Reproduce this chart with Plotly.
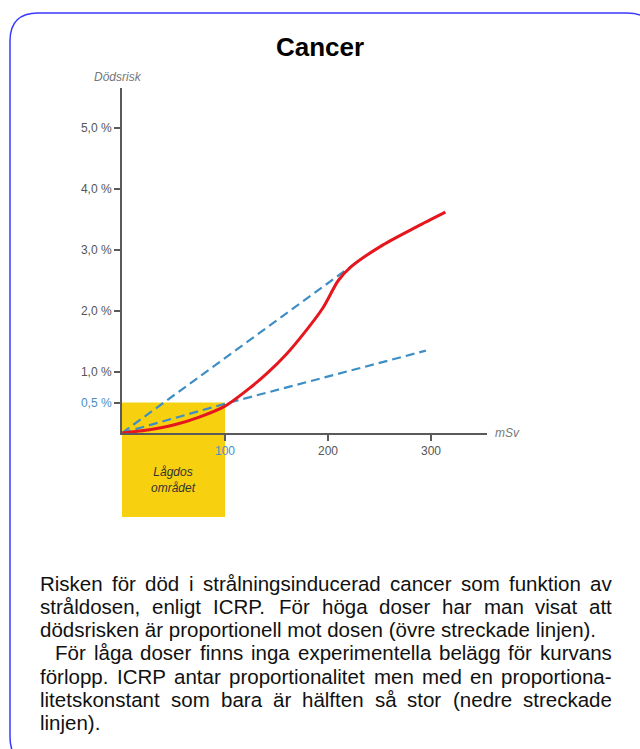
import plotly.graph_objects as go

W, H = 640, 749

# ---------------- data ----------------
dose_red = [0, 25, 50, 75, 100, 125, 141, 160, 175, 195, 210, 222, 253, 286, 314]
risk_red = [0, 0.05, 0.13, 0.26, 0.44, 0.75, 0.98, 1.3, 1.6, 2.05, 2.5, 2.72, 3.08, 3.38, 3.62]

dose_high = [0, 232]
risk_high = [0, 2.85]

dose_low = [0, 100, 295]
risk_low = [0, 0.48, 1.35]

y_tick_vals = [0.5, 1, 2, 3, 4, 5]
y_tick_text = ["0,5 %", "1,0 %", "2,0 %", "3,0 %", "4,0 %", "5,0 %"]
x_tick_vals = [100, 200, 300]
x_tick_text = ["100", "200", "300"]

low_dose_limit = 100
low_dose_risk = 0.5

title_text = "Cancer"
y_label = "Dödsrisk"
x_label = "mSv"
region_label = "Lågdos<br>området"

caption_lines = [
    "Risken för död i strålningsinducerad cancer som funktion av",
    "stråldosen, enligt ICRP. För höga doser har man visat att",
    "dödsrisken är proportionell mot dosen (övre streckade linjen).",
    "För låga doser finns inga experimentella belägg för kurvans",
    "förlopp. ICRP antar proportionalitet men med en proportiona-",
    "litetskonstant som bara är hälften så stor (nedre streckade",
    "linjen).",
]

# ---------------- style / layout ----------------
FONT = "Liberation Sans, Arial, Helvetica, sans-serif"
GREY = "#5a5a5a"
BLUE_LBL = "#4a8ec4"
RED = "#e5161d"
DASH = "#3d8ec4"
YELLOW = "#f7d10f"
BORDER = "#3a3aff"

# pixel geometry of the plot area
PX_L, PX_R = 122, 487
PX_B, PX_T = 433, 88
PX_PER_MSV = 1.03
PX_PER_PCT = 61.0

x_range = [0, (PX_R - PX_L) / PX_PER_MSV]
y_range = [0, (PX_B - PX_T) / PX_PER_PCT]
x_dom = [PX_L / W, PX_R / W]
y_dom = [1 - PX_B / H, 1 - PX_T / H]


def px(x):
    return x / W


def py(y):
    return 1 - y / H


def ypaper(v):
    return y_dom[0] + (v - y_range[0]) / (y_range[1] - y_range[0]) * (y_dom[1] - y_dom[0])


fig = go.Figure()

fig.add_trace(go.Scatter(x=dose_high, y=risk_high, mode="lines",
                         line=dict(color=DASH, width=2.2, dash="9px,5px"),
                         hoverinfo="skip", showlegend=False))
fig.add_trace(go.Scatter(x=dose_low, y=risk_low, mode="lines",
                         line=dict(color=DASH, width=2.2, dash="9px,5px"),
                         hoverinfo="skip", showlegend=False))
fig.add_trace(go.Scatter(x=dose_red, y=risk_red, mode="lines",
                         line=dict(color=RED, width=3, shape="spline", smoothing=0.8),
                         hoverinfo="skip", showlegend=False))

shapes = []
# yellow low-dose region (from below the axis up to the 0.5 % level)
shapes.append(dict(type="rect", xref="x", yref="paper", layer="below",
                   x0=0, x1=low_dose_limit, y0=py(517), y1=ypaper(low_dose_risk),
                   fillcolor=YELLOW, line=dict(width=0)))

# rounded blue frame
L, T, R, B, r = 10, 13, 655, 765, 28


def P(x, y):
    return f"{px(x):.5f},{py(y):.5f}"


path = (f"M {P(L + r, T)} L {P(R - r, T)} Q {P(R, T)} {P(R, T + r)} "
        f"L {P(R, B - r)} Q {P(R, B)} {P(R - r, B)} L {P(L + r, B)} "
        f"Q {P(L, B)} {P(L, B - r)} L {P(L, T + r)} Q {P(L, T)} {P(L + r, T)} Z")
shapes.append(dict(type="path", xref="paper", yref="paper", path=path,
                   line=dict(color=BORDER, width=1.5)))

ann = []
ann.append(dict(text=f"<b>{title_text}</b>", x=px(320), y=py(47), xref="paper", yref="paper",
                xanchor="center", yanchor="middle", showarrow=False,
                font=dict(family=FONT, size=26, color="#000")))
ann.append(dict(text=f"<i>{y_label}</i>", x=px(118), y=py(77), xref="paper", yref="paper",
                xanchor="center", yanchor="middle", showarrow=False,
                font=dict(family=FONT, size=12, color="#777")))
ann.append(dict(text=f"<i>{x_label}</i>", x=px(493), y=py(433), xref="paper", yref="paper",
                xanchor="left", yanchor="middle", showarrow=False,
                font=dict(family=FONT, size=12, color="#777")))
ann.append(dict(text=f"<i>{region_label}</i>", x=low_dose_limit / 2, y=py(480), xref="x", yref="paper",
                xanchor="center", yanchor="middle", showarrow=False,
                font=dict(family=FONT, size=12, color="#333")))

# caption, justified word by word
CW = {' ': 278, '.': 278, ',': 278, '(': 333, ')': 333, '-': 333,
      'a': 556, 'b': 556, 'c': 500, 'd': 556, 'e': 556, 'f': 278, 'g': 556, 'h': 556,
      'i': 222, 'j': 222, 'k': 500, 'l': 222, 'm': 833, 'n': 556, 'o': 556, 'p': 556,
      'q': 556, 'r': 333, 's': 500, 't': 278, 'u': 556, 'v': 500, 'w': 722, 'x': 500,
      'y': 500, 'z': 500, 'å': 556, 'ä': 556, 'ö': 556,
      'C': 722, 'F': 611, 'I': 278, 'P': 667, 'R': 722}
CAP_SIZE = 20.5


def tw(s):
    return sum(CW.get(c, 556) for c in s) * CAP_SIZE / 1000


cap_left, cap_right = 40, 612
cap_top, cap_step = 583, 23.3
indents = [0, 0, 0, 15, 0, 0, 0]
justify = [True, True, False, True, True, True, False]
for i, line in enumerate(caption_lines):
    cy = cap_top + i * cap_step
    x0 = cap_left + indents[i]
    f = dict(family=FONT, size=CAP_SIZE, color="#111")
    if justify[i]:
        words = line.split(" ")
        widths = [tw(w) for w in words]
        gap = (cap_right - x0 - sum(widths)) / (len(words) - 1)
        xx = x0
        for w, wd in zip(words, widths):
            ann.append(dict(text=w, x=px(xx), y=py(cy), xref="paper", yref="paper",
                            xanchor="left", yanchor="middle", showarrow=False,
                            borderpad=0, borderwidth=0, font=f))
            xx += wd + gap
    else:
        ann.append(dict(text=line, x=px(x0), y=py(cy), xref="paper", yref="paper",
                        xanchor="left", yanchor="middle", showarrow=False,
                        borderpad=0, borderwidth=0, font=f))

y_ticktext_html = [f"<span style='color:{BLUE_LBL}'>{t}</span>" if v == low_dose_risk else t
                   for v, t in zip(y_tick_vals, y_tick_text)]
x_ticktext_html = [f"<span style='color:{BLUE_LBL}'>{t}</span>" if v == low_dose_limit else t
                   for v, t in zip(x_tick_vals, x_tick_text)]

fig.update_layout(
    width=W, height=H,
    margin=dict(l=0, r=0, t=0, b=0),
    paper_bgcolor="white", plot_bgcolor="rgba(0,0,0,0)",
    showlegend=False,
    shapes=shapes, annotations=ann,
    font=dict(family=FONT, color="#555", size=12),
    xaxis=dict(domain=x_dom, range=x_range, showgrid=False, zeroline=False,
               showline=True, linecolor=GREY, linewidth=2,
               ticks="outside", ticklen=6, tickwidth=1.5, tickcolor=GREY,
               tickvals=x_tick_vals, ticktext=x_ticktext_html,
               tickfont=dict(family=FONT, size=12, color="#555"), fixedrange=True),
    yaxis=dict(domain=y_dom, range=y_range, showgrid=False, zeroline=False,
               showline=True, linecolor=GREY, linewidth=2,
               ticks="outside", ticklen=6, tickwidth=1.5, tickcolor=GREY,
               tickvals=y_tick_vals, ticktext=y_ticktext_html,
               tickfont=dict(family=FONT, size=12, color="#555"), fixedrange=True),
)

fig.write_html("out.html", config={"displayModeBar": False},
               post_script="document.body.style.margin='0';document.body.style.overflow='hidden';")
